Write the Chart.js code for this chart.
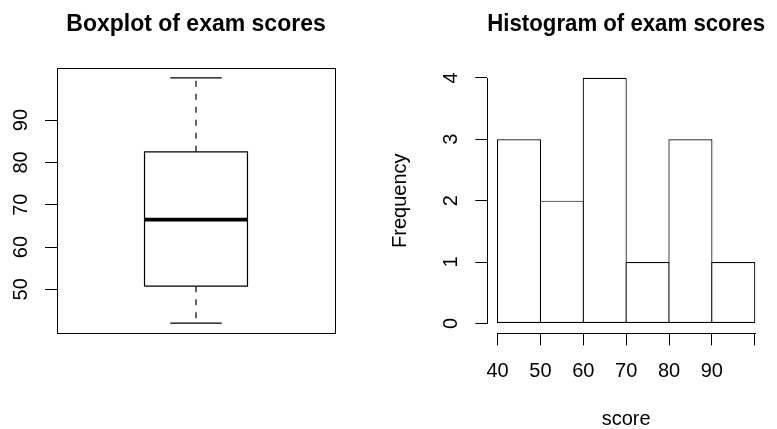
<!DOCTYPE html>
<html>
<head>
<meta charset="utf-8">
<title>Exam scores</title>
<script src="https://cdn.jsdelivr.net/npm/chart.js@4.4.1/dist/chart.umd.min.js"></script>
<style>
  html, body { margin: 0; padding: 0; background: #fff; overflow: hidden; }
  #wrap { position: relative; width: 777px; height: 429px; overflow: hidden; }
  .panel { position: absolute; top: 0; height: 429px; }
  #boxPanel { left: 0; width: 388px; }
  /* wider than the window on purpose, the spare right edge is clipped */
  #histPanel { left: 388px; width: 420px; }
</style>
</head>
<body>
<div id="wrap">
  <div class="panel" id="boxPanel"><canvas id="boxChart"></canvas></div>
  <div class="panel" id="histPanel"><canvas id="histChart"></canvas></div>
</div>
<script>
// boxplot summary: min, lower hinge, median, upper hinge, max
const scoreFivenum = [42, 50.75, 66.5, 82.5, 100];
const boxYTicks = [50, 60, 70, 80, 90];

// histogram, 10-point bins
const binEdges = [40, 50, 60, 70, 80, 90, 100];
const binCounts = [3, 2, 4, 1, 3, 1];
const histXTicks = [40, 50, 60, 70, 80, 90, 100];
const histXLabels = ["40", "50", "60", "70", "80", "90", ""];
const histYTicks = [0, 1, 2, 3, 4];

Chart.defaults.font.family = "'Liberation Sans', Arial, Helvetica, sans-serif";
Chart.defaults.color = "#000";
Chart.defaults.animation = false;

const INK = "#000";
const LINE_W = 1.2;

// R pads each axis range by 4% on both ends
function rRange(lo, hi) {
  const d = (hi - lo) * 0.04;
  return [lo - d, hi + d];
}
const crisp = v => Math.round(v) + 0.5;

// frame around the plot region + axis lines that stop at the end ticks (R style)
const rDecor = {
  id: "rDecor",
  afterDraw(chart, args, opts) {
    const ctx = chart.ctx;
    const a = chart.chartArea;
    ctx.save();
    ctx.strokeStyle = INK;
    ctx.lineWidth = 1;
    if (opts.frame) {
      ctx.strokeRect(crisp(a.left), crisp(a.top), Math.round(a.right - a.left), Math.round(a.bottom - a.top));
    }
    (opts.axisLines || []).forEach(id => {
      const s = chart.scales[id];
      const p0 = crisp(s.getPixelForValue(s.ticks[0].value));
      const p1 = crisp(s.getPixelForValue(s.ticks[s.ticks.length - 1].value));
      ctx.beginPath();
      if (s.isHorizontal()) {
        ctx.moveTo(p0 - 0.5, crisp(s.top));
        ctx.lineTo(p1 + 0.5, crisp(s.top));
      } else {
        ctx.moveTo(crisp(s.right), p0 + 0.5);
        ctx.lineTo(crisp(s.right), p1 - 0.5);
      }
      ctx.stroke();
    });
    ctx.restore();
  }
};

function titleOpts(text) {
  return {
    display: true, text, fullSize: false, color: INK,
    font: { size: 23, weight: "bold" },
    padding: { top: 10.7, bottom: 29.7 }
  };
}

function tickAxis(ticks, extra) {
  return Object.assign({
    type: "linear",
    bounds: "data",
    afterBuildTicks: s => { s.ticks = ticks.map(v => ({ value: v })); },
    border: { display: false },
    grid: { drawOnChartArea: false, drawTicks: true, tickLength: 12, color: INK, lineWidth: 1 },
  }, extra);
}

/* ---------- Boxplot ---------- */
const [sMin, sLo, sMed, sHi, sMax] = scoreFivenum;
const BOX_HALF = 0.2, CAP_HALF = 0.1;
const boxY = rRange(sMin, sMax);
const boxX = rRange(0.5, 1.5);

function seg(points, extra) {
  return Object.assign({
    data: points, showLine: true, pointRadius: 0, fill: false,
    borderColor: INK, borderWidth: LINE_W, borderCapStyle: "butt", borderJoinStyle: "miter"
  }, extra);
}

new Chart(document.getElementById("boxChart"), {
  type: "scatter",
  data: {
    datasets: [
      seg([{ x: 1 - BOX_HALF, y: sMed }, { x: 1 + BOX_HALF, y: sMed }], { borderWidth: 3.8 }),
      seg([
        { x: 1 - BOX_HALF, y: sLo }, { x: 1 + BOX_HALF, y: sLo },
        { x: 1 + BOX_HALF, y: sHi }, { x: 1 - BOX_HALF, y: sHi },
        { x: 1 - BOX_HALF, y: sLo }
      ]),
      seg([{ x: 1, y: sHi }, { x: 1, y: sMax }], { borderDash: [6, 7] }),
      seg([{ x: 1, y: sLo }, { x: 1, y: sMin }], { borderDash: [6, 7] }),
      seg([{ x: 1 - CAP_HALF, y: sMax }, { x: 1 + CAP_HALF, y: sMax }]),
      seg([{ x: 1 - CAP_HALF, y: sMin }, { x: 1 + CAP_HALF, y: sMin }])
    ]
  },
  options: {
    responsive: true,
    maintainAspectRatio: false,
    layout: { padding: { left: 0, right: 53, top: 0, bottom: 96 } },
    plugins: {
      legend: { display: false },
      tooltip: { enabled: false },
      title: titleOpts("Boxplot of exam scores"),
      rDecor: { frame: true }
    },
    scales: {
      x: { type: "linear", min: boxX[0], max: boxX[1], display: false },
      y: tickAxis(boxYTicks, {
        min: boxY[0], max: boxY[1],
        afterFit: s => { s.width = 57; },
        ticks: { minRotation: 90, maxRotation: 90, crossAlign: "center", padding: 12, autoSkip: false, color: INK, font: { size: 20 } }
      })
    }
  },
  plugins: [rDecor]
});

/* ---------- Histogram ---------- */
const histX = rRange(binEdges[0], binEdges[binEdges.length - 1]);
const histY = rRange(0, Math.max(...binCounts));

new Chart(document.getElementById("histChart"), {
  type: "bar",
  data: {
    datasets: [{
      data: binCounts.map((c, i) => ({ x: (binEdges[i] + binEdges[i + 1]) / 2, y: c })),
      backgroundColor: "#fff",
      borderColor: INK,
      borderWidth: LINE_W,
      borderSkipped: false,
      inflateAmount: 0,
      categoryPercentage: 1,
      // bars overlap by one border width so neighbouring edges land on the same line
      barPercentage: 1.028
    }]
  },
  options: {
    responsive: true,
    maintainAspectRatio: false,
    layout: { padding: { left: 0, right: 43, top: 0, bottom: 0 } },
    plugins: {
      legend: { display: false },
      tooltip: { enabled: false },
      title: titleOpts("Histogram of exam scores"),
      rDecor: { axisLines: ["x", "y"] }
    },
    scales: {
      x: tickAxis(histXTicks, {
        min: histX[0], max: histX[1], offset: false,
        afterFit: s => { s.height = 95.7; },
        grid: { offset: false, drawOnChartArea: false, drawTicks: true, tickLength: 12, color: INK, lineWidth: 1 },
        ticks: { autoSkip: false, maxRotation: 0, padding: 14, color: INK, font: { size: 20 }, callback: (v, i) => histXLabels[i] },
        title: { display: true, text: "score", color: INK, font: { size: 20, lineHeight: 1 }, padding: { top: 0, bottom: 0 } }
      }),
      y: tickAxis(histYTicks, {
        min: histY[0], max: histY[1],
        afterFit: s => { s.width = 99.3; },
        ticks: { minRotation: 90, maxRotation: 90, crossAlign: "center", padding: 18, autoSkip: false, color: INK, font: { size: 20 } },
        title: { display: true, text: "Frequency", color: INK, font: { size: 20, lineHeight: 1 }, padding: { top: 2.7, bottom: 0 } }
      })
    }
  },
  plugins: [rDecor]
});
</script>
</body>
</html>
